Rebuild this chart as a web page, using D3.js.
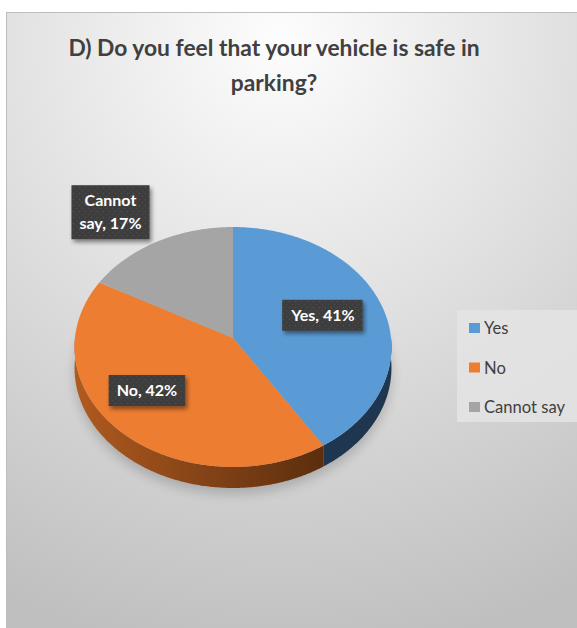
<!DOCTYPE html>
<html>
<head>
<meta charset="utf-8">
<script src="https://cdn.jsdelivr.net/npm/d3@7"></script>
<style>
  html, body { margin: 0; padding: 0; background: #ffffff; }
  svg { display: block; }
</style>
</head>
<body>
<script>
// Survey answers: share of respondents per answer
const categories = ["Yes", "No", "Cannot say"];
const shares = [41, 42, 17];
const labelTexts = [["Yes, 41%"], ["No, 42%"], ["Cannot", "say, 17%"]];
const titleLines = ["D) Do you feel that your vehicle is safe in", "parking?"];

const W = 577, H = 628;
const colors = d3.scaleOrdinal().domain(categories).range(["#5b9bd5", "#ed7d31", "#a5a5a5"]);
const sideColors = {
  "Yes": ["#264566", "#1e3650"],
  "No": ["#b05a1f", "#5a2d0e"],
  "Cannot say": ["#6b6b6b", "#4a4a4a"]
};

// Projection of the tilted disc
const cx = 233, cy = 338, rx = 158, ry = 119.3, persp = 0.075, depth = 21;
function proj(a, r = 1, dy = 0) {
  const c = Math.sin(a), s = -Math.cos(a);
  const w = 1 - persp * s * r;
  return [cx + rx * r * c / w, cy + ry * r * s / w + dy];
}
function arcPts(a0, a1, dy = 0) {
  const n = Math.max(2, Math.ceil((a1 - a0) / 0.01));
  return d3.range(n + 1).map(i => proj(a0 + (a1 - a0) * i / n, 1, dy));
}

const svg = d3.select("body").append("svg").attr("width", W).attr("height", H);
const defs = svg.append("defs");

// Chart area background
const bg = defs.append("radialGradient").attr("id", "bg")
  .attr("gradientUnits", "userSpaceOnUse").attr("cx", 280).attr("cy", 40).attr("r", 620);
bg.append("stop").attr("offset", 0).attr("stop-color", "#fdfdfd");
bg.append("stop").attr("offset", 1).attr("stop-color", "#bfbfbf");

svg.append("rect").attr("x", 6.5).attr("y", 12.5).attr("width", W + 10).attr("height", H)
  .attr("fill", "url(#bg)").attr("stroke", "#bdbdbd").attr("stroke-width", 1);

// Filters
const sh = defs.append("filter").attr("id", "boxShadow").attr("x", "-20%").attr("y", "-30%").attr("width", "150%").attr("height", "170%");
sh.append("feDropShadow").attr("dx", 2).attr("dy", 3).attr("stdDeviation", 2.2)
  .attr("flood-color", "#000").attr("flood-opacity", 0.45);

const blur = defs.append("filter").attr("id", "pieShadow").attr("x", "-30%").attr("y", "-30%").attr("width", "160%").attr("height", "160%");
blur.append("feGaussianBlur").attr("stdDeviation", 6);

// Dotted texture of the label boxes
const pat = defs.append("pattern").attr("id", "dots").attr("patternUnits", "userSpaceOnUse")
  .attr("width", 6).attr("height", 6);
pat.append("rect").attr("width", 6).attr("height", 6).attr("fill", "#3d3d3d");
pat.append("circle").attr("cx", 1.5).attr("cy", 1.5).attr("r", 0.8).attr("fill", "#4f4f4f");
pat.append("circle").attr("cx", 4.5).attr("cy", 4.5).attr("r", 0.8).attr("fill", "#474747");

// Side gradients
categories.forEach((c, i) => {
  const g = defs.append("linearGradient").attr("id", "side" + i)
    .attr("gradientUnits", "userSpaceOnUse")
    .attr("x1", cx - rx).attr("y1", 0).attr("x2", cx + rx * 0.6).attr("y2", 0);
  g.append("stop").attr("offset", 0).attr("stop-color", sideColors[c][0]);
  g.append("stop").attr("offset", 1).attr("stop-color", sideColors[c][1]);
});

// Title
svg.append("g").selectAll("text").data(titleLines).join("text")
  .attr("x", 274).attr("y", (d, i) => 56 + i * 35)
  .attr("text-anchor", "middle")
  .attr("font-family", "Lato, 'Open Sans', sans-serif")
  .attr("font-weight", 700).attr("font-size", 22.8)
  .attr("fill", "#404040")
  .text(d => d);

// Pie layout, clockwise from 12 o'clock
const pie = d3.pie().sort(null).value(d => d.v);
const arcs = pie(categories.map((c, i) => ({ c, v: shares[i] })));

// Soft shadow beneath the disc
svg.append("path")
  .attr("d", d3.line()(arcPts(0, 2 * Math.PI, depth + 6)) + "Z")
  .attr("fill", "#000").attr("opacity", 0.18).attr("filter", "url(#pieShadow)");

// Visible side walls (front half of the disc)
const gSide = svg.append("g");
arcs.forEach((a, i) => {
  const a0 = Math.max(a.startAngle, Math.PI / 2);
  const a1 = Math.min(a.endAngle, 3 * Math.PI / 2);
  if (a1 <= a0) return;
  const top = arcPts(a0, a1, 0);
  const bot = arcPts(a0, a1, depth).reverse();
  gSide.append("path")
    .attr("d", d3.line()(top.concat(bot)) + "Z")
    .attr("fill", `url(#side${i})`);
});

// Top faces
const gTop = svg.append("g");
arcs.forEach(a => {
  const pts = [[cx, cy]].concat(arcPts(a.startAngle, a.endAngle, 0));
  gTop.append("path")
    .attr("d", d3.line()(pts) + "Z")
    .attr("fill", colors(a.data.c));
});

// Data labels: placed along each slice's mid-angle
const labelLayout = { "Yes": { r: 0.6, dx: 0, dy: -3 }, "No": { r: 0.66, dx: -12, dy: -7 }, "Cannot say": { r: 1.33, dx: -24, dy: 0 } };
const fontLbl = "Lato, 'Open Sans', sans-serif";
arcs.forEach((a, i) => {
  const L = labelLayout[a.data.c];
  const mid = (a.startAngle + a.endAngle) / 2;
  const [px, py] = proj(mid, L.r);
  const x = px + L.dx, y = py + L.dy;
  const lines = labelTexts[i];
  const g = svg.append("g");
  const t = g.append("text")
    .attr("text-anchor", "middle")
    .attr("font-family", fontLbl).attr("font-weight", 700).attr("font-size", 16)
    .attr("fill", "#ffffff");
  const lh = 23;
  lines.forEach((s, k) => {
    t.append("tspan").attr("x", x)
      .attr("y", y + (k - (lines.length - 1) / 2) * lh + 5.5)
      .text(s);
  });
  const bb = t.node().getBBox();
  g.insert("rect", "text")
    .attr("x", bb.x - 8).attr("y", y - (lines.length * lh) / 2 - 4)
    .attr("width", bb.width + 16).attr("height", lines.length * lh + 8)
    .attr("fill", "url(#dots)").attr("filter", "url(#boxShadow)");
});

// Legend
const lg = svg.append("g");
lg.append("rect").attr("x", 457).attr("y", 310).attr("width", 130).attr("height", 112)
  .attr("fill", "#e4e4e4").attr("opacity", 0.85);
const item = lg.selectAll("g").data(categories).join("g")
  .attr("transform", (d, i) => `translate(469, ${328 + i * 39.5})`);
item.append("rect").attr("x", 0).attr("y", -5).attr("width", 11).attr("height", 10)
  .attr("fill", d => colors(d));
item.append("text").attr("x", 15).attr("y", 6)
  .attr("font-family", fontLbl).attr("font-size", 16.6).attr("fill", "#404040")
  .text(d => d);
</script>
</body>
</html>
